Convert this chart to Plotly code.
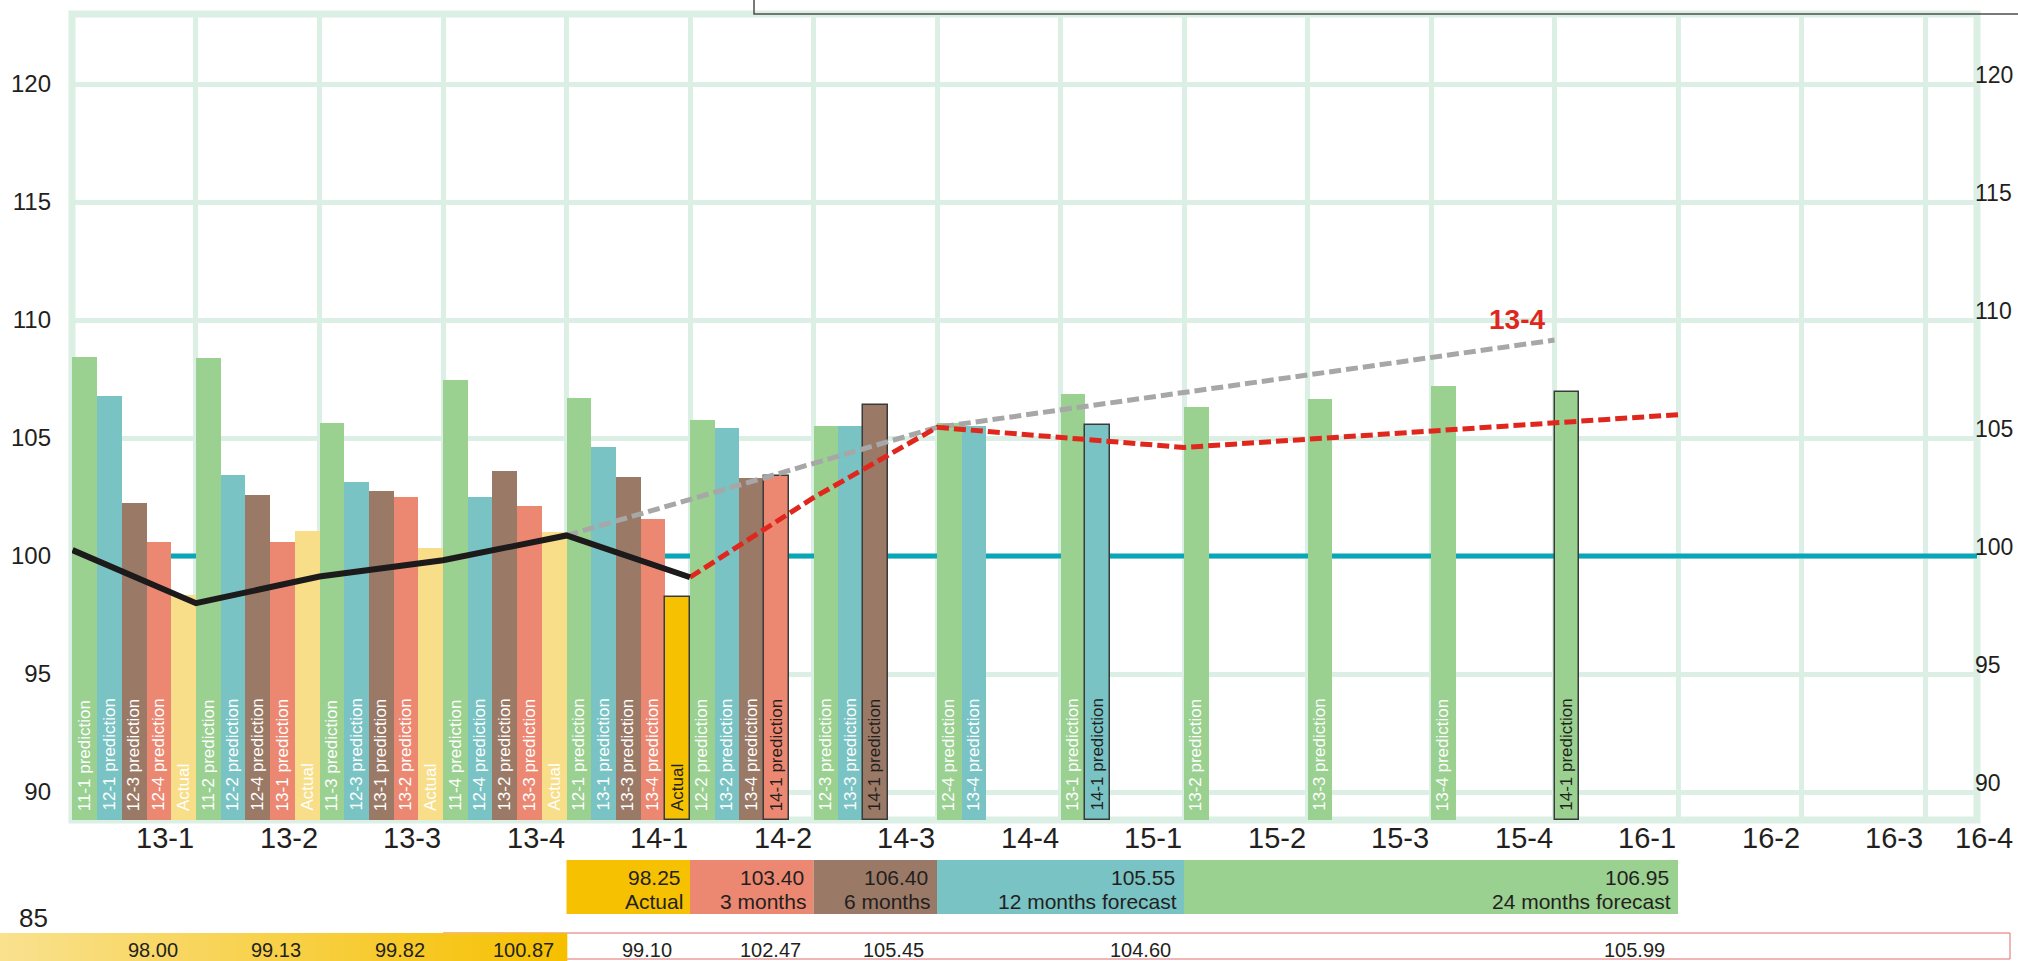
import plotly.graph_objects as go

W, H = 2018, 961

# ---------------------------------------------------------------- data
QUARTERS = ["13-1", "13-2", "13-3", "13-4", "14-1", "14-2", "14-3", "14-4",
            "15-1", "15-2", "15-3", "15-4", "16-1", "16-2", "16-3", "16-4"]
CURRENT = "14-1"

# predictions grouped by lead time (quarters ahead of the target quarter)
lead8_targets = QUARTERS[:13]
lead8_values = [108.43, 108.39, 105.64, 107.46, 106.69, 105.76, 105.50,
                105.65, 106.86, 106.30, 106.65, 107.20, 106.95]
lead4_targets = QUARTERS[:9]
lead4_values = [106.78, 103.43, 103.14, 102.50, 104.60, 105.42, 105.50,
                105.50, 105.55]
lead2_targets = QUARTERS[:7]
lead2_values = [102.25, 102.58, 102.75, 103.60, 103.35, 103.30, 106.40]
lead1_targets = QUARTERS[:6]
lead1_values = [100.60, 100.60, 102.50, 102.12, 101.57, 103.40]
actual_targets = QUARTERS[:5]
actual_values = [98.35, 101.06, 100.34, 101.00, 98.25]

# trend lines (value at the end of each quarter)
actual_trend_q = ["12-4", "13-1", "13-2", "13-3", "13-4", "14-1"]
actual_trend_v = [100.25, 98.00, 99.13, 99.82, 100.87, 99.10]
forecast_trend_q = ["14-1", "14-2", "14-3", "15-1", "16-1"]
forecast_trend_v = [99.10, 102.47, 105.45, 104.60, 105.99]
prior_trend_q = ["13-4", "14-3", "15-4"]
prior_trend_v = [100.87, 105.45, 109.15]
prior_trend_label = "13-4"

# summary boxes for the current quarter's forecasts
summary_labels = ["Actual", "3 months", "6 months", "12 months forecast", "24 months forecast"]
summary_values = [98.25, 103.40, 106.40, 105.55, 106.95]
summary_first = ["14-1", "14-2", "14-3", "14-4", "15-2"]
summary_last = ["14-1", "14-2", "14-3", "15-1", "16-1"]

Y_TICKS = [90, 95, 100, 105, 110, 115, 120]
EXTRA_TICK = "85"
REFERENCE_LEVEL = 100

# ---------------------------------------------------------------- styling
GREEN, TEAL, BROWN, SALMON = "#9ad090", "#79c3c4", "#9a7966", "#ec8872"
PALE, GOLD = "#f8de88", "#f6c100"
GRID = "#dcefe4"
INK = "#231f20"
FONT = "Liberation Sans, Arial, sans-serif"

X_RANGE = [-0.004, 15.421]
Y_RANGE = [88.814, 122.966]
DOM_X = [72 / W, 1977 / W]
DOM_Y = [1 - 820 / H, 1 - 14 / H]
BAR_W = 0.2


def q_index(label):
    yy, q = label.split("-")
    return (int(yy) - 13) * 4 + int(q) - 1


def q_shift(label, n):
    yy, q = label.split("-")
    i = int(yy) * 4 + int(q) - 1 + n
    return f"{i // 4}-{i % 4 + 1}"


def xpaper(xv):
    return DOM_X[0] + (xv - X_RANGE[0]) / (X_RANGE[1] - X_RANGE[0]) * (DOM_X[1] - DOM_X[0])


def px(p):
    return p / W


def py(p):
    return 1 - p / H


fig = go.Figure()
annotations = []
shapes = []

series = [
    (8, lead8_targets, lead8_values, GREEN),
    (4, lead4_targets, lead4_values, TEAL),
    (2, lead2_targets, lead2_values, BROWN),
    (1, lead1_targets, lead1_values, SALMON),
    (0, actual_targets, actual_values, PALE),
]

for slot, (lead, targets, values, color) in enumerate(series):
    xs, ys, cols, lws, names = [], [], [], [], []
    for t, v in zip(targets, values):
        x = q_index(t) + (slot + 0.5) * BAR_W
        if lead == 0:
            highlight = t == CURRENT
            label = "Actual"
            c = GOLD if highlight else PALE
        else:
            src = q_shift(t, -lead)
            highlight = src == CURRENT
            label = f"{src} prediction"
            c = color
        xs.append(x)
        ys.append(v - Y_RANGE[0])
        cols.append(c)
        lws.append(1.5 if highlight else 0)
        names.append(label)
        annotations.append(dict(
            x=x, y=Y_RANGE[0] + 0.3, xref="x", yref="y", text=label,
            textangle=-90, showarrow=False, xanchor="center", yanchor="bottom",
            font=dict(family=FONT, size=17, color=INK if highlight else "white"),
        ))
    fig.add_trace(go.Bar(
        x=xs, y=ys, base=Y_RANGE[0], width=BAR_W,
        marker=dict(color=cols, line=dict(color="#3a3a3a", width=lws)),
        hovertext=names, showlegend=False,
    ))

# trend lines
fig.add_trace(go.Scatter(
    x=[q_index(q) + 1 for q in prior_trend_q], y=prior_trend_v, mode="lines",
    line=dict(color="#a7a7a7", width=5, dash="12px,5px"), showlegend=False))
fig.add_trace(go.Scatter(
    x=[q_index(q) + 1 for q in forecast_trend_q], y=forecast_trend_v, mode="lines",
    line=dict(color="#e0271d", width=5, dash="12px,5px"), showlegend=False))
fig.add_trace(go.Scatter(
    x=[q_index(q) + 1 for q in actual_trend_q], y=actual_trend_v, mode="lines",
    line=dict(color="#1c1a1a", width=6), showlegend=False))

annotations.append(dict(
    x=q_index(prior_trend_q[-1]) + 1, y=prior_trend_v[-1], xref="x", yref="y",
    text=f"<b>{prior_trend_label}</b>", showarrow=False, xanchor="right", yanchor="bottom",
    xshift=-8, yshift=3, font=dict(family=FONT, size=28, color="#e0271d")))

# reference level across the chart
shapes.append(dict(type="line", xref="x", yref="y", x0=X_RANGE[0], x1=X_RANGE[1],
                   y0=REFERENCE_LEVEL, y1=REFERENCE_LEVEL, layer="between",
                   line=dict(color="#08a6b6", width=5)))

# chart frame
shapes.append(dict(type="rect", xref="paper", yref="paper",
                   x0=DOM_X[0], x1=DOM_X[1], y0=DOM_Y[0], y1=DOM_Y[1],
                   line=dict(color=GRID, width=7), layer="below"))

# box outline at the top
shapes.append(dict(type="path", xref="paper", yref="paper",
                   path=f"M {px(754)},{py(-2)} L {px(754)},{py(14)} L {px(2020)},{py(14)}",
                   line=dict(color="#4d4d4d", width=1.5)))

# quarter labels under the frame
for k, q in enumerate(QUARTERS):
    xc = xpaper(k + 0.75)
    if xc + px(30) > 1:
        annotations.append(dict(x=px(W - 3), y=py(838), xref="paper", yref="paper", text=q,
                                showarrow=False, xanchor="right", yanchor="middle",
                                font=dict(family=FONT, size=29, color=INK)))
    else:
        annotations.append(dict(x=xc, y=py(838), xref="paper", yref="paper", text=q,
                                showarrow=False, xanchor="center", yanchor="middle",
                                font=dict(family=FONT, size=29, color=INK)))

# summary boxes
summary_colors = [GOLD, SALMON, BROWN, TEAL, GREEN]
for lab, val, q0, q1, col in zip(summary_labels, summary_values, summary_first,
                                 summary_last, summary_colors):
    x0 = xpaper(q_index(q0))
    x1 = xpaper(q_index(q1) + 1)
    shapes.append(dict(type="rect", xref="paper", yref="paper", x0=x0, x1=x1,
                       y0=py(914), y1=py(860), fillcolor=col, line=dict(width=0)))
    annotations.append(dict(x=x1 - px(7), y=py(877), xref="paper", yref="paper",
                            text=f"{val:.2f}", showarrow=False, xanchor="right",
                            yanchor="middle", font=dict(family=FONT, size=21, color=INK)))
    annotations.append(dict(x=x1 - px(5), y=py(901), xref="paper", yref="paper",
                            text=lab, showarrow=False, xanchor="right",
                            yanchor="middle", font=dict(family=FONT, size=21, color=INK)))

# bottom strip with trend values
shapes.append(dict(type="rect", xref="paper", yref="paper",
                   x0=xpaper(3), x1=px(2010), y0=py(959), y1=py(933),
                   line=dict(color="#e36b6b", width=1)))
grad_end = xpaper(4)
steps = 120
c0, c1 = (249, 225, 142), (246, 192, 0)
for i in range(steps):
    t = i / (steps - 1)
    rgb = tuple(round(a + (b - a) * t) for a, b in zip(c0, c1))
    shapes.append(dict(type="rect", xref="paper", yref="paper",
                       x0=grad_end * i / steps, x1=grad_end * (i + 1) / steps + 0.0004,
                       y0=py(961), y1=py(933), fillcolor=f"rgb{rgb}", line=dict(width=0)))

strip_q = actual_trend_q[1:] + forecast_trend_q[1:]
strip_v = actual_trend_v[1:] + forecast_trend_v[1:]
for q, v in zip(strip_q, strip_v):
    annotations.append(dict(x=xpaper(q_index(q) + 0.65), y=py(950), xref="paper", yref="paper",
                            text=f"{v:.2f}", showarrow=False, xanchor="center",
                            yanchor="middle", font=dict(family=FONT, size=20, color=INK)))

annotations.append(dict(x=px(50), y=py(918), xref="paper", yref="paper", text=EXTRA_TICK,
                        showarrow=False, xanchor="right", yanchor="middle",
                        font=dict(family=FONT, size=26, color=INK)))

fig.update_layout(
    width=W, height=H, margin=dict(l=0, r=0, t=0, b=0, autoexpand=False),
    paper_bgcolor="white", plot_bgcolor="white",
    bargap=0, barmode="overlay",
    xaxis=dict(domain=DOM_X, range=X_RANGE, tickvals=list(range(1, 16)),
               showticklabels=False, showgrid=True, gridcolor=GRID, gridwidth=5,
               zeroline=False, showline=False, fixedrange=True, automargin=False),
    yaxis=dict(domain=DOM_Y, range=Y_RANGE, tickvals=Y_TICKS, showgrid=True,
               gridcolor=GRID, gridwidth=5, zeroline=False, showline=False,
               ticks="", ticklabelstandoff=20, automargin=False,
               tickfont=dict(family=FONT, size=24, color=INK)),
    yaxis2=dict(overlaying="y", side="right", range=Y_RANGE, tickvals=Y_TICKS,
                showgrid=False, zeroline=False, showline=False, ticks="",
                ticklabelstandoff=-3, ticklabelshift=-9, automargin=False,
                tickfont=dict(family=FONT, size=23, color=INK)),
    shapes=shapes, annotations=annotations,
)
# invisible point that brings up the right-hand axis
fig.add_trace(go.Scatter(x=[X_RANGE[0]], y=[Y_RANGE[0]], yaxis="y2", mode="markers",
                         marker=dict(opacity=0), showlegend=False, hoverinfo="skip"))

fig.write_html("out.html")
